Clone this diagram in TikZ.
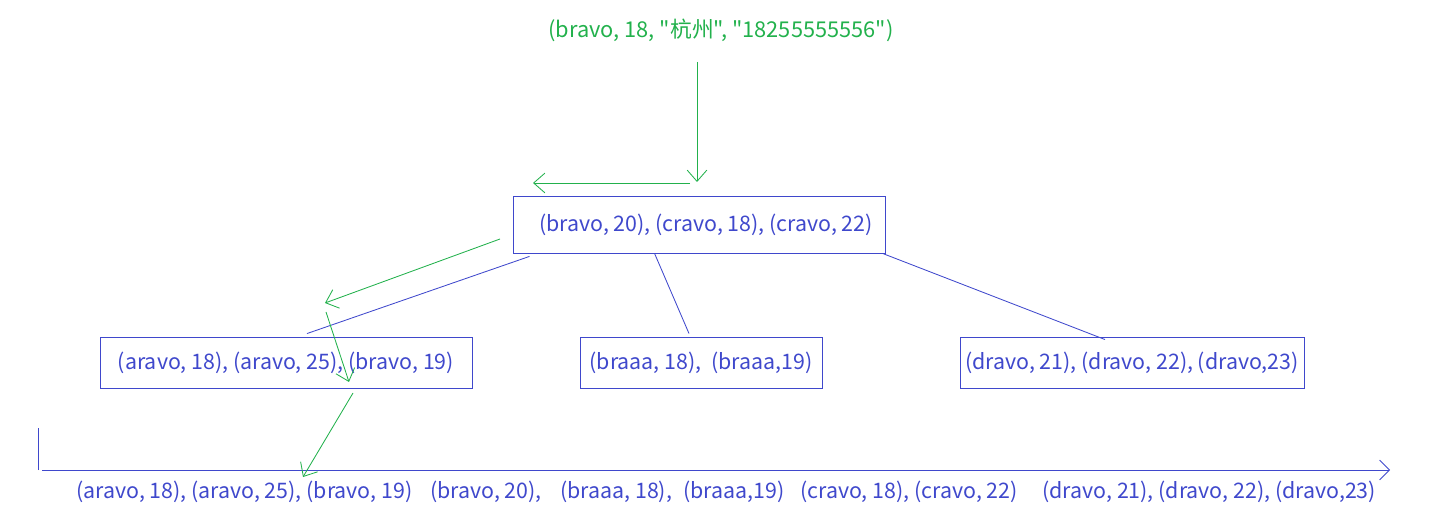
\documentclass[tikz,border=0pt]{standalone}
\usepackage{fontspec}
\setmainfont{Noto Sans CJK SC}[Ligatures=TeXOff]
\usepackage{xcolor}
\usepackage{tikz}
\usetikzlibrary{arrows.meta,calc,positioning}
\definecolor{pblue}{HTML}{3F48CC}
\definecolor{pgreen}{HTML}{22B14C}

\begin{document}
\begin{tikzpicture}[x=0.025cm,y=-0.025cm,
      page/.style={
        rectangle,
        draw=pblue,
        text=pblue,
        line width=0.6pt,
        minimum height=36.3pt,
        inner sep=0pt,
        font=\fontsize{15.2}{18}\selectfont
      },
      entry/.style={
        text=pblue,
        inner sep=0pt,
        anchor=west,
        font=\fontsize{15.2}{18}\selectfont
      },
      tree/.style={pblue, line width=0.6pt},
      walk/.style={pgreen, line width=0.6pt,
        -{Straight Barb[length=8pt,width=14pt,line width=0.6pt]}}
    ]
    \useasboundingbox (0,0) rectangle (1440,530);
    % the record to insert
    \node[text=pgreen,font=\fontsize{15.5}{18}\selectfont,inner sep=0pt] (rec) at (721,30)
      {(bravo, 18, "杭州", "18255555556")};
    % inner page and leaves
    \node[page,minimum width=264.6pt,minimum height=40.5pt] (root) at (699,224.5)
      {\hspace{10pt}(bravo, 20), (cravo, 18), (cravo, 22)};
    \node[page,minimum width=264.6pt] (left) at (286,362.5) {(aravo, 18), (aravo, 25), (bravo, 19)};
    \node[page,minimum width=172.1pt] (mid) at (701,362.5) {(braaa, 18),\ \ (braaa,19)};
    \node[page,minimum width=244.7pt] (right) at (1132,362.5) {(dravo, 21), (dravo, 22), (dravo,23)};
    \draw[tree] ($(root.south west)+(17,3)$) -- ($(left.north)+(21,-3)$);
    \draw[tree] ($(root.south west)+(142,0)$) -- ($(mid.north)+(-12,-3)$);
    \draw[tree] ($(root.south east)+(-3,0)$) -- ($(right.north)+(-27,3)$);
    % leaf level as one ordered list
    \coordinate (o) at (38,470);
    \draw[tree] (o) -- ++(0,-42);
    \draw[tree,-{Straight Barb[length=7pt,width=14pt,line width=0.6pt]}] ($(o)+(4,0)$) -- (1390,470);
    \node[entry] (r1) at (76,492) {(aravo, 18), (aravo, 25), (bravo, 19)};
    \node[entry] (r2) at (430,492) {(bravo, 20),};
    \node[entry] (r3) at (560,492) {(braaa, 18),};
    \node[entry] (r4) at (683,492) {(braaa,19)};
    \node[entry] (r5) at (800,492) {(cravo, 18), (cravo, 22)};
    \node[entry] (r6) at (1042,492) {(dravo, 21), (dravo, 22), (dravo,23)};
    % search path
    \coordinate (s1) at (697,62);
    \coordinate (s2) at (697,182);
    \coordinate (s3) at (533,183);
    \coordinate (s4) at (500,239);
    \coordinate (s5) at (325,303);
    \coordinate (s6) at (326,312);
    \coordinate (s7) at (349,382);
    \coordinate (s8) at (353,393);
    \coordinate (s9) at (303,477);
    \draw[walk] (s1) -- (s2);
    \draw[walk] ($(s2)+(-7,1)$) -- (s3);
    \draw[walk] (s4) -- (s5);
    \draw[walk] (s6) -- (s7);
    \draw[walk] (s8) -- (s9);
\end{tikzpicture}
\end{document}
